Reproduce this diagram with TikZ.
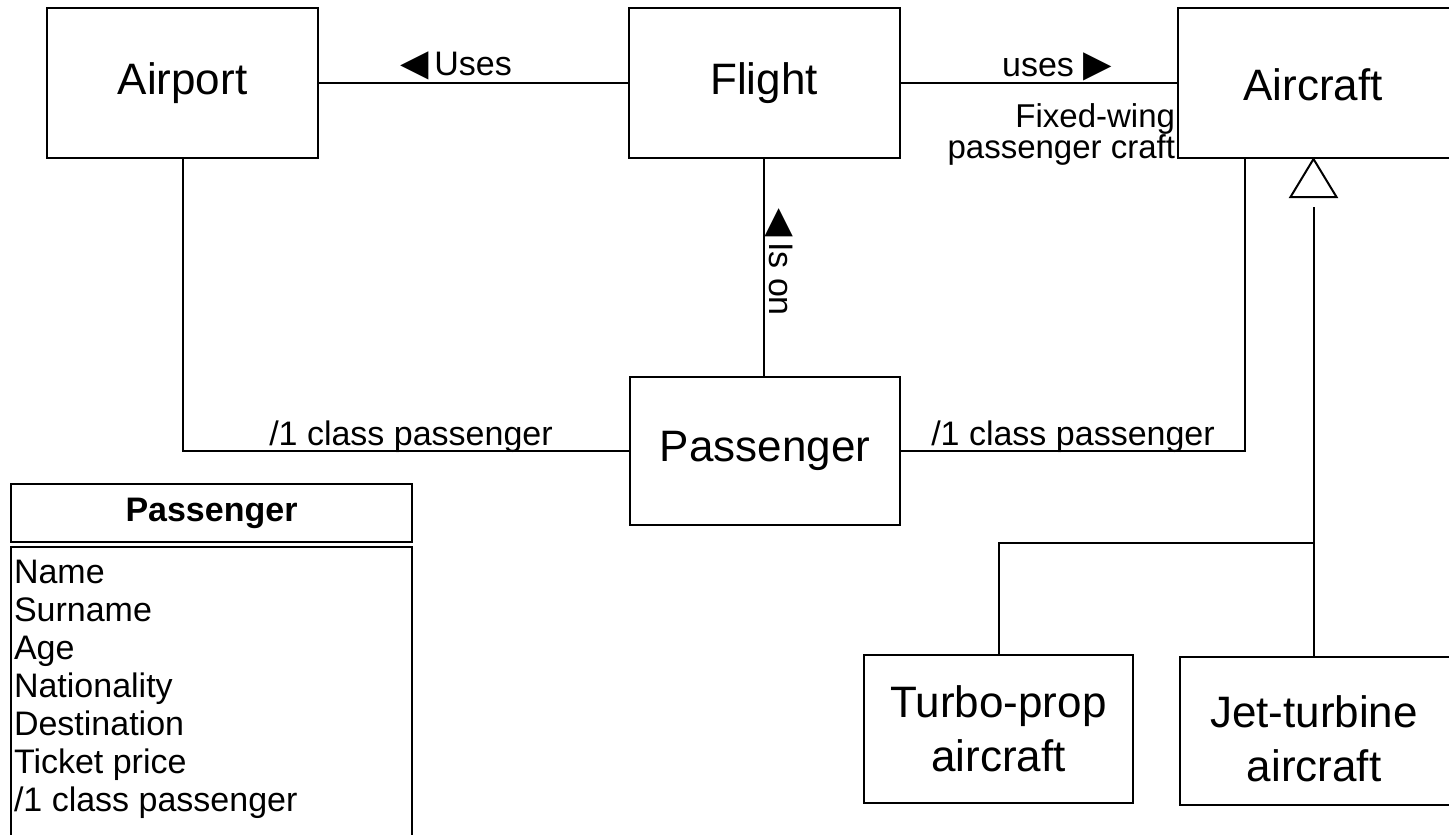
\documentclass[tikz,border=0pt]{standalone}
\usepackage{fontspec}
\setmainfont{Liberation Sans}
\newfontfamily\symfont{DejaVu Sans}
\usetikzlibrary{calc}
\begin{document}
\begin{tikzpicture}[x=1pt,y=-1pt, line width=2pt,
  box/.style={draw, minimum width=271pt, minimum height=150pt, font=\fontsize{44}{54}\selectfont, align=center, inner sep=0pt},
  lbl/.style={font=\fontsize{34}{32}\selectfont, inner sep=0pt},
  sym/.style={},
]
\useasboundingbox (0,0) rectangle (1449,835);
% class boxes
\node[box] (airport) at (182.5,83) {Airport};
\node[box] (flight) at (764,83) {Flight};
\node[box, minimum width=275pt] (aircraft) at (1315.5,83) {};
\node[font=\fontsize{44}{54}\selectfont, inner sep=0pt] (aircraftlbl) at (1313,85) {Aircraft};
\node[box, minimum width=270pt, minimum height=148pt] (pass) at (765,451) {Passenger};
\node[box, minimum width=269pt, minimum height=148pt] (turbo) at (998.5,729) {Turbo-prop\\aircraft};
\node[box, minimum width=275pt, minimum height=148pt] (jet) at (1317.5,731) {};
\node[font=\fontsize{44}{54}\selectfont, align=center, inner sep=0pt] (jetlbl) at (1314,739) {Jet-turbine\\aircraft};
% attribute class box
\node[draw, minimum width=401pt, minimum height=58pt, inner sep=0pt, font=\bfseries\fontsize{34}{38}\selectfont] (chead) at (211.5,513) {Passenger};
\node[draw, minimum width=401pt, minimum height=310pt, anchor=north, inner sep=0pt] (cbody) at (211.5,546) {};
\node[anchor=north west, align=left, inner sep=0pt, font=\fontsize{34}{38}\selectfont] (attrs) at (13,559) {Name\\Surname\\Age\\Nationality\\Destination\\Ticket price\\/1 class passenger};
% connectors
\draw (airport) -- (flight);
\draw (flight) -- (aircraft);
\draw (flight.south) -- (flight.south |- pass.north);
\draw (airport.south) |- (pass.west);
\draw (pass.east) -| ([xshift=-71pt]aircraft.south);
% generalization
\coordinate (tip) at ([xshift=-2pt]aircraft.south);
\draw[fill=white] (tip) -- ++(-23,38) -- ++(46,0) -- cycle;
\coordinate (gtop) at ([yshift=-48pt]tip);
\draw (gtop) -- (gtop |- jet.north);
\coordinate (branch) at (gtop |- 0,543);
\draw (branch) -| (turbo.north);
% labels
\node[lbl] (uses1) at (456,66) {{\symfont\fontsize{37}{32}\selectfont ◀}\,Uses};
\node[lbl] (uses2) at (1057,67) {uses {\symfont\fontsize{37}{32}\selectfont ▶}};
\node[lbl, anchor=north east, align=right, font=\fontsize{33}{31}\selectfont] (fw) at (1176,103) {Fixed-wing\\passenger craft};
\node[lbl, rotate=-90] (ison) at (779,262) {{\symfont\fontsize{37}{32}\selectfont ◀}\,Is on};
\node[lbl] (cp1) at (411,437) {/1 class passenger};
\node[lbl] (cp2) at (1073,437) {/1 class passenger};
\end{tikzpicture}
\end{document}
